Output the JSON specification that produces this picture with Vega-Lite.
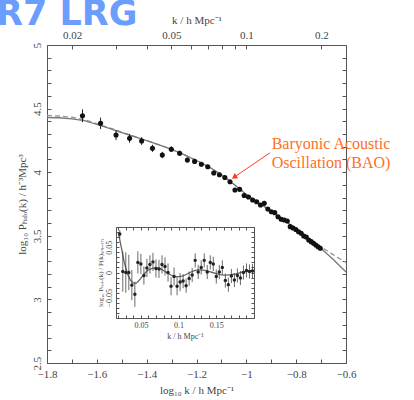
{
  "$schema": "https://vega.github.io/schema/vega-lite/v6.json",
  "width": 299,
  "height": 318,
  "autosize": "none",
  "padding": {"left": 47, "top": 45, "right": 68, "bottom": 37},
  "background": "white",
  "title": {
    "text": "DR7 LRG",
    "anchor": "start",
    "frame": "group",
    "font": "DejaVu Sans",
    "fontSize": 35,
    "fontWeight": "bold",
    "color": "#6b9dfc",
    "dx": -80,
    "dy": 22
  },
  "config": {
    "view": {"stroke": null},
    "axis": {
      "grid": false,
      "domainColor": "#555",
      "tickColor": "#555",
      "labelFont": "Liberation Serif",
      "titleFont": "Liberation Serif",
      "labelColor": "#444",
      "titleColor": "#444",
      "titleFontWeight": "normal",
      "labelFontSize": 11,
      "titleFontSize": 11,
      "tickSize": -4,
      "labelPadding": 9,
      "labelFlush": false,
      "labelOverlap": false,
      "labelBound": false
    }
  },
  "datasets": {
    "pts": [
      {"k": 0.022, "P": 4.444, "err": 0.05, "r": 0.076, "rerr": 0.008},
      {"k": 0.026, "P": 4.384, "err": 0.045, "r": 0.002, "rerr": 0.04},
      {"k": 0.030, "P": 4.292, "err": 0.04, "r": 0.0, "rerr": 0.04},
      {"k": 0.034, "P": 4.266, "err": 0.035, "r": 0.0, "rerr": 0.035},
      {"k": 0.038, "P": 4.245, "err": 0.03, "r": -0.025, "rerr": 0.03},
      {"k": 0.042, "P": 4.188, "err": 0.028, "r": -0.043, "rerr": 0.025},
      {"k": 0.046, "P": 4.135, "err": 0.025, "r": 0.020, "rerr": 0.022},
      {"k": 0.050, "P": 4.181, "err": 0.022, "r": 0.017, "rerr": 0.02},
      {"k": 0.054, "P": 4.149, "err": 0.02, "r": -0.006, "rerr": 0.018},
      {"k": 0.058, "P": 4.096, "err": 0.02, "r": 0.009, "rerr": 0.018},
      {"k": 0.062, "P": 4.085, "err": 0.018, "r": 0.016, "rerr": 0.018},
      {"k": 0.066, "P": 4.062, "err": 0.016, "r": 0.021, "rerr": 0.018},
      {"k": 0.070, "P": 4.043, "err": 0.016, "r": 0.008, "rerr": 0.018},
      {"k": 0.074, "P": 3.994, "err": 0.016, "r": 0.007, "rerr": 0.018},
      {"k": 0.078, "P": 3.980, "err": 0.016, "r": 0.016, "rerr": 0.018},
      {"k": 0.082, "P": 3.958, "err": 0.016, "r": 0.012, "rerr": 0.018},
      {"k": 0.086, "P": 3.925, "err": 0.014, "r": 0.0, "rerr": 0.018},
      {"k": 0.090, "P": 3.860, "err": 0.014, "r": -0.027, "rerr": 0.018},
      {"k": 0.094, "P": 3.865, "err": 0.014, "r": -0.008, "rerr": 0.018},
      {"k": 0.098, "P": 3.817, "err": 0.014, "r": -0.027, "rerr": 0.018},
      {"k": 0.102, "P": 3.805, "err": 0.014, "r": -0.019, "rerr": 0.018},
      {"k": 0.106, "P": 3.781, "err": 0.014, "r": -0.017, "rerr": 0.014},
      {"k": 0.110, "P": 3.768, "err": 0.014, "r": -0.026, "rerr": 0.014},
      {"k": 0.114, "P": 3.742, "err": 0.014, "r": -0.012, "rerr": 0.014},
      {"k": 0.118, "P": 3.755, "err": 0.014, "r": -0.005, "rerr": 0.014},
      {"k": 0.122, "P": 3.711, "err": 0.012, "r": 0.024, "rerr": 0.014},
      {"k": 0.126, "P": 3.689, "err": 0.012, "r": 0.001, "rerr": 0.014},
      {"k": 0.130, "P": 3.682, "err": 0.012, "r": 0.010, "rerr": 0.014},
      {"k": 0.134, "P": 3.650, "err": 0.012, "r": 0.024, "rerr": 0.014},
      {"k": 0.138, "P": 3.630, "err": 0.012, "r": 0.001, "rerr": 0.014},
      {"k": 0.142, "P": 3.624, "err": 0.012, "r": 0.020, "rerr": 0.014},
      {"k": 0.146, "P": 3.616, "err": 0.012, "r": 0.017, "rerr": 0.014},
      {"k": 0.150, "P": 3.572, "err": 0.012, "r": -0.008, "rerr": 0.014},
      {"k": 0.154, "P": 3.561, "err": 0.012, "r": 0.001, "rerr": 0.014},
      {"k": 0.158, "P": 3.550, "err": 0.012, "r": 0.010, "rerr": 0.014},
      {"k": 0.162, "P": 3.532, "err": 0.012, "r": -0.016, "rerr": 0.014},
      {"k": 0.166, "P": 3.520, "err": 0.012, "r": -0.024, "rerr": 0.014},
      {"k": 0.170, "P": 3.498, "err": 0.012, "r": -0.007, "rerr": 0.014},
      {"k": 0.174, "P": 3.490, "err": 0.012, "r": -0.015, "rerr": 0.014},
      {"k": 0.178, "P": 3.467, "err": 0.012, "r": -0.006, "rerr": 0.014},
      {"k": 0.182, "P": 3.454, "err": 0.012, "r": -0.011, "rerr": 0.014},
      {"k": 0.186, "P": 3.441, "err": 0.012, "r": 0.0, "rerr": 0.014},
      {"k": 0.190, "P": 3.428, "err": 0.012, "r": 0.004, "rerr": 0.014},
      {"k": 0.194, "P": 3.414, "err": 0.012, "r": 0.002, "rerr": 0.014},
      {"k": 0.198, "P": 3.402, "err": 0.012, "r": 0.003, "rerr": 0.014}
    ],
    "curves": [
      {"k": 0.015849, "solid": 4.430, "dashed": 4.446},
      {"k": 0.017783, "solid": 4.428, "dashed": 4.442},
      {"k": 0.019953, "solid": 4.420, "dashed": 4.432},
      {"k": 0.022387, "solid": 4.405, "dashed": 4.413},
      {"k": 0.025119, "solid": 4.375, "dashed": 4.381},
      {"k": 0.028184, "solid": 4.345, "dashed": 4.349},
      {"k": 0.031623, "solid": 4.312, "dashed": 4.315},
      {"k": 0.035481, "solid": 4.280, "dashed": 4.282},
      {"k": 0.039811, "solid": 4.248, "dashed": 4.249},
      {"k": 0.044668, "solid": 4.215, "dashed": 4.215},
      {"k": 0.050119, "solid": 4.180, "dashed": 4.180},
      {"k": 0.056234, "solid": 4.138, "dashed": 4.138},
      {"k": 0.063096, "solid": 4.092, "dashed": 4.092},
      {"k": 0.070795, "solid": 4.042, "dashed": 4.042},
      {"k": 0.079433, "solid": 3.980, "dashed": 3.980},
      {"k": 0.089125, "solid": 3.905, "dashed": 3.905},
      {"k": 0.1, "solid": 3.825, "dashed": 3.826},
      {"k": 0.112202, "solid": 3.758, "dashed": 3.760},
      {"k": 0.125893, "solid": 3.693, "dashed": 3.695},
      {"k": 0.141254, "solid": 3.625, "dashed": 3.628},
      {"k": 0.158489, "solid": 3.553, "dashed": 3.557},
      {"k": 0.177828, "solid": 3.478, "dashed": 3.485},
      {"k": 0.199526, "solid": 3.400, "dashed": 3.412},
      {"k": 0.223872, "solid": 3.312, "dashed": 3.350},
      {"k": 0.251189, "solid": 3.215, "dashed": 3.290}
    ],
    "rc": [
      {"k": 0.020, "v": 0.080},
      {"k": 0.024, "v": 0.050},
      {"k": 0.028, "v": 0.020},
      {"k": 0.032, "v": -0.002},
      {"k": 0.036, "v": -0.015},
      {"k": 0.040, "v": -0.021},
      {"k": 0.044, "v": -0.021},
      {"k": 0.048, "v": -0.015},
      {"k": 0.052, "v": -0.007},
      {"k": 0.056, "v": 0.000},
      {"k": 0.060, "v": 0.005},
      {"k": 0.065, "v": 0.008},
      {"k": 0.070, "v": 0.009},
      {"k": 0.075, "v": 0.008},
      {"k": 0.080, "v": 0.004},
      {"k": 0.085, "v": -0.001},
      {"k": 0.090, "v": -0.005},
      {"k": 0.095, "v": -0.008},
      {"k": 0.100, "v": -0.008},
      {"k": 0.105, "v": -0.007},
      {"k": 0.110, "v": -0.004},
      {"k": 0.115, "v": 0.000},
      {"k": 0.120, "v": 0.003},
      {"k": 0.125, "v": 0.005},
      {"k": 0.130, "v": 0.005},
      {"k": 0.135, "v": 0.004},
      {"k": 0.140, "v": 0.002},
      {"k": 0.145, "v": 0.000},
      {"k": 0.150, "v": -0.002},
      {"k": 0.155, "v": -0.004},
      {"k": 0.160, "v": -0.005},
      {"k": 0.165, "v": -0.005},
      {"k": 0.170, "v": -0.004},
      {"k": 0.175, "v": -0.003},
      {"k": 0.180, "v": -0.001},
      {"k": 0.185, "v": 0.001},
      {"k": 0.190, "v": 0.002},
      {"k": 0.195, "v": 0.003},
      {"k": 0.200, "v": 0.003}
    ]
  },
  "layer": [
    {
      "layer": [
        {
          "data": {"name": "curves"},
          "mark": {"type": "line", "color": "#999", "strokeWidth": 1.3, "strokeDash": [5, 3]},
          "encoding": {
            "x": {"field": "k", "type": "quantitative", "axis": null, "scale": {"type": "log", "domain": [0.015849, 0.251189], "nice": false}},
            "y": {"field": "dashed", "type": "quantitative", "axis": null, "scale": {"domain": [2.5, 5], "nice": false, "zero": false}}
          }
        },
        {
          "data": {"name": "curves"},
          "mark": {"type": "line", "color": "#777", "strokeWidth": 1.3},
          "encoding": {
            "x": {"field": "k", "type": "quantitative", "axis": null},
            "y": {"field": "solid", "type": "quantitative", "axis": null}
          }
        },
        {
          "data": {"name": "pts"},
          "mark": {"type": "errorbar", "color": "#222", "thickness": 1},
          "encoding": {
            "x": {
              "field": "k", "type": "quantitative",
              "axis": {
                "orient": "bottom",
                "values": [0.015849, 0.019953, 0.025119, 0.031623, 0.039811, 0.050119, 0.063096, 0.079433, 0.1, 0.125893, 0.158489, 0.199526, 0.251189],
                "labelExpr": "round(log(datum.value)/LN10*10) % 2 == 0 ? replace(format(round(log(datum.value)/LN10*10)/10, '.2~g'), '-', '−') : ''",
                "title": "log₁₀ k / h Mpc⁻¹",
                "titlePadding": 5
              }
            },
            "y": {
              "field": "P", "type": "quantitative",
              "axis": {
                "orient": "left",
                "values": [2.5, 2.6, 2.7, 2.8, 2.9, 3.0, 3.1, 3.2, 3.3, 3.4, 3.5, 3.6, 3.7, 3.8, 3.9, 4.0, 4.1, 4.2, 4.3, 4.4, 4.5, 4.6, 4.7, 4.8, 4.9, 5.0],
                "labelExpr": "abs(datum.value*2 - round(datum.value*2)) < 0.001 ? format(datum.value, '~g') : ''",
                "labelAngle": -90,
                "title": "log₁₀ Pₕₐₗₒ(k) / h⁻³Mpc³",
                "titlePadding": 4
              }
            },
            "yError": {"field": "err"}
          }
        },
        {
          "data": {"name": "pts"},
          "mark": {"type": "point", "filled": true, "color": "#111", "size": 26, "opacity": 1},
          "encoding": {
            "x": {
              "field": "k", "type": "quantitative",
              "axis": {
                "orient": "top",
                "values": [0.02, 0.03, 0.04, 0.05, 0.06, 0.07, 0.08, 0.09, 0.1, 0.2],
                "labelExpr": "indexof([2, 5, 10, 20], round(datum.value*100)) >= 0 ? format(datum.value, '~g') : ''",
                "title": "k / h Mpc⁻¹",
                "titlePadding": 4
              }
            },
            "y": {
              "field": "P", "type": "quantitative",
              "axis": {
                "orient": "right",
                "values": [2.5, 2.6, 2.7, 2.8, 2.9, 3.0, 3.1, 3.2, 3.3, 3.4, 3.5, 3.6, 3.7, 3.8, 3.9, 4.0, 4.1, 4.2, 4.3, 4.4, 4.5, 4.6, 4.7, 4.8, 4.9, 5.0],
                "labels": false,
                "title": null
              }
            }
          }
        },
        {
          "data": {"values": [{"k1": 0.1245, "y1": 4.153, "k2": 0.0905, "y2": 3.968}]},
          "mark": {"type": "rule", "color": "#ff3b1f", "strokeWidth": 1},
          "encoding": {
            "x": {"field": "k1", "type": "quantitative", "axis": null},
            "y": {"field": "y1", "type": "quantitative", "axis": null},
            "x2": {"field": "k2"},
            "y2": {"field": "y2"}
          }
        },
        {
          "data": {"values": [{"k": 0.0900, "y": 3.965}]},
          "mark": {"type": "point", "shape": "triangle", "filled": true, "color": "#ff3b1f", "size": 40, "angle": 236, "opacity": 1},
          "encoding": {
            "x": {"field": "k", "type": "quantitative", "axis": null},
            "y": {"field": "y", "type": "quantitative", "axis": null}
          }
        },
        {
          "data": {"values": [{"k": 0.1264, "y": 4.18, "label": "Baryonic Acoustic\nOscillation (BAO)"}]},
          "mark": {"type": "text", "align": "left", "baseline": "alphabetic", "font": "Liberation Serif", "fontSize": 16, "color": "#ff6f1f", "lineBreak": "\n", "lineHeight": 19},
          "encoding": {
            "x": {"field": "k", "type": "quantitative", "axis": null},
            "y": {"field": "y", "type": "quantitative", "axis": null},
            "text": {"field": "label"}
          }
        }
      ],
      "resolve": {"axis": {"x": "independent", "y": "independent"}}
    },
    {
      "layer": [
        {
          "data": {"name": "rc"},
          "mark": {"type": "line", "color": "#666", "strokeWidth": 1.3},
          "encoding": {
            "x": {"field": "k", "type": "quantitative", "axis": null, "scale": {"domain": [0.017, 0.2], "range": [69, 207], "nice": false, "zero": false}},
            "y": {"field": "v", "type": "quantitative", "axis": null, "scale": {"domain": [-0.09, 0.09], "range": [273, 182], "nice": false, "zero": false}}
          }
        },
        {
          "data": {"name": "pts"},
          "mark": {"type": "errorbar", "color": "#444", "thickness": 0.8},
          "encoding": {
            "x": {
              "field": "k", "type": "quantitative",
              "axis": {
                "orient": "bottom", "offset": -45,
                "values": [0.02, 0.03, 0.04, 0.05, 0.06, 0.07, 0.08, 0.09, 0.1, 0.11, 0.12, 0.13, 0.14, 0.15, 0.16, 0.17, 0.18, 0.19, 0.2],
                "labelExpr": "indexof([5, 10, 15], round(datum.value*100)) >= 0 ? format(datum.value, '~g') : ''",
                "title": "k / h Mpc⁻¹",
                "labelFontSize": 8, "titleFontSize": 8, "tickSize": -3, "labelPadding": 6, "titlePadding": 3
              }
            },
            "y": {
              "field": "r", "type": "quantitative",
              "axis": {
                "orient": "left", "offset": -69,
                "values": [-0.09, -0.08, -0.07, -0.06, -0.05, -0.04, -0.03, -0.02, -0.01, 0, 0.01, 0.02, 0.03, 0.04, 0.05, 0.06, 0.07, 0.08, 0.09],
                "labelExpr": "abs(datum.value) < 0.001 ? '0' : abs(abs(datum.value) - 0.05) < 0.001 ? replace(format(datum.value, '.2f'), '-', '−') : ''",
                "labelAngle": -90,
                "title": "log₁₀ Pₕₐₗₒ(k) / P(k)ₛₘₒₒₜₕ",
                "labelFontSize": 8, "titleFontSize": 7, "tickSize": -3, "labelPadding": 6, "titlePadding": 2
              }
            },
            "yError": {"field": "rerr"}
          }
        },
        {
          "data": {"name": "pts"},
          "mark": {"type": "point", "filled": true, "color": "#222", "size": 12, "opacity": 1},
          "encoding": {
            "x": {
              "field": "k", "type": "quantitative",
              "axis": {
                "orient": "top", "offset": -182,
                "values": [0.02, 0.03, 0.04, 0.05, 0.06, 0.07, 0.08, 0.09, 0.1, 0.11, 0.12, 0.13, 0.14, 0.15, 0.16, 0.17, 0.18, 0.19, 0.2],
                "labels": false, "title": null, "tickSize": -3
              }
            },
            "y": {
              "field": "r", "type": "quantitative",
              "axis": {
                "orient": "right", "offset": -92,
                "values": [-0.09, -0.08, -0.07, -0.06, -0.05, -0.04, -0.03, -0.02, -0.01, 0, 0.01, 0.02, 0.03, 0.04, 0.05, 0.06, 0.07, 0.08, 0.09],
                "labels": false, "title": null, "tickSize": -3
              }
            }
          }
        }
      ],
      "resolve": {"axis": {"x": "independent", "y": "independent"}}
    }
  ],
  "resolve": {"scale": {"x": "independent", "y": "independent"}, "axis": {"x": "independent", "y": "independent"}}
}
